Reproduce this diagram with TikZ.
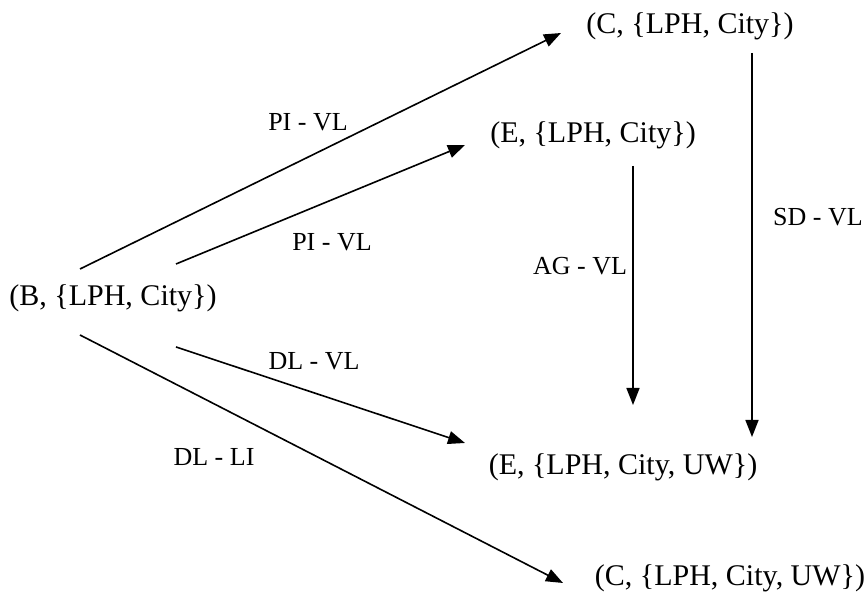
\documentclass[tikz,border=0pt]{standalone}
\usepackage{fontspec}
\setmainfont{Liberation Serif}
\usetikzlibrary{arrows.meta,calc}
\begin{document}
\begin{tikzpicture}[x=1pt,y=1pt,
  state/.style={inner sep=0pt,font=\fontsize{30}{36}\selectfont},
  rel/.style={inner sep=0pt,font=\fontsize{26}{31}\selectfont},
  arr/.style={line width=1.6pt,-{Triangle[length=17pt,width=13pt]}}]
\useasboundingbox (0,0) rectangle (865,593);
% states
\node[state] (B)    at (113,295) {(B, \{LPH, City\})};
\node[state] (Ctop) at (690,567) {(C, \{LPH, City\})};
\node[state] (Etop) at (593,458) {(E, \{LPH, City\})};
\node[state] (Ebot) at (623,126) {(E, \{LPH, City, UW\})};
\node[state] (Cbot) at (730,15)  {(C, \{LPH, City, UW\})};
% transitions
\draw[arr] ($(B)+(-33,29)$) -- ($(Ctop)+(-129,-7)$);
\draw[arr] ($(B)+(63,34)$) -- ($(Etop)+(-128,-10)$);
\draw[arr] ($(B)+(63,-49)$) -- ($(Ebot)+(-158,24)$);
\draw[arr] ($(B)+(-33,-37)$) -- ($(Cbot)+(-167,-5)$);
\draw[arr] ($(Etop)+(40,-31)$) -- ($(Ebot)+(10,62)$);
\draw[arr] ($(Ctop)+(62,-27)$) -- ($(Ebot)+(129,30)$);
% transition labels
\node[rel] (l1) at (308,471) {PI - VL};
\node[rel] (l2) at (332,351) {PI - VL};
\node[rel] (l3) at (314,232) {DL - VL};
\node[rel] (l4) at (214,136) {DL - LI};
\node[rel] (l5) at (580,327) {AG - VL};
\node[rel] (l6) at (818,376) {SD - VL};
\end{tikzpicture}
\end{document}
